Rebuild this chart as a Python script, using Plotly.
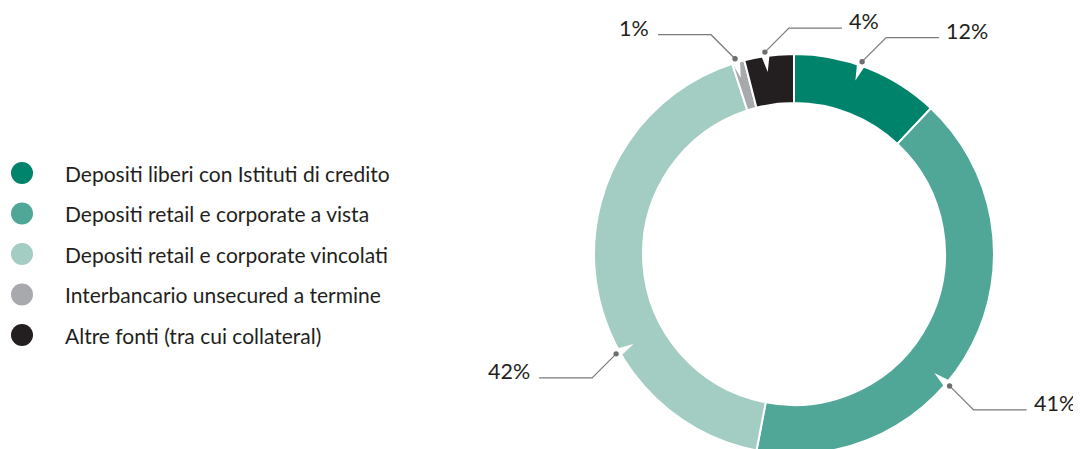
import math
import plotly.graph_objects as go

# data
categories = [
    "Depositi liberi con Istituti di credito",
    "Depositi retail e corporate a vista",
    "Depositi retail e corporate vincolati",
    "Interbancario unsecured a termine",
    "Altre fonti (tra cui collateral)",
]
shares = [12, 41, 42, 1, 4]
colors = ["#00836B", "#50A697", "#A3CDC3", "#A7A9AC", "#231F20"]

# label placement (angle from 12 o'clock, clockwise) and leader-line direction
label_angle = [19.5, 130.3, 240.7, 343.2, 351.8]
label_side = [1, 1, -1, -1, 1]    # horizontal run: +1 right, -1 left
label_rise = [-1, 1, 1, -1, -1]   # elbow: -1 up, +1 down

OFF = 8                 # page margin around the figure
W, H = 1073, 447
CX, CY, R = 794, 254, 200   # page pixels
HOLE = 0.755
FONT = "Lato"
TXT = "#231F20"
LEAD = "#7a7a7a"


def polar_px(angle, r):
    a = math.radians(angle)
    return CX + r * math.sin(a), CY - r * math.cos(a)


fig = go.Figure()

fx, fy = CX - OFF, CY - OFF
fig.add_trace(go.Pie(
    values=shares, labels=categories, sort=False, direction="clockwise",
    rotation=0, hole=HOLE, textinfo="none", hoverinfo="label+percent",
    marker=dict(colors=colors, line=dict(color="white", width=2)),
    domain=dict(x=[(fx - R) / W, (fx + R) / W],
                y=[max(0, (H - fy - R) / H), (H - fy + R) / H]),
    showlegend=False,
))

# legend drawn as circle markers on a pixel-scaled axis
leg_y = [173 + 40.5 * i for i in range(len(categories))]
fig.add_trace(go.Scatter(
    x=[22] * len(categories), y=leg_y, mode="markers",
    marker=dict(size=22, color=colors), hoverinfo="skip", showlegend=False,
))
for name, y in zip(categories, leg_y):
    fig.add_annotation(x=63, y=y, xref="x", yref="y", text=name, showarrow=False,
                       xanchor="left", yanchor="middle",
                       font=dict(family=FONT, size=21, color=TXT))

shapes = []
for v, ang, side, rise in zip(shares, label_angle, label_side, label_rise):
    # white notch cut into the ring, pointing to the centre
    a = math.radians(ang)
    px, py = math.cos(a), math.sin(a)
    bx, by = polar_px(ang, 202)
    tx, ty = polar_px(ang, 184)
    shapes.append(dict(
        type="path", xref="x", yref="y", layer="above",
        path=f"M{bx - 4.5 * px},{by - 4.5 * py} L{bx + 4.5 * px},{by + 4.5 * py} L{tx},{ty} Z",
        fillcolor="white", line=dict(width=0),
    ))
    dx, dy = polar_px(ang, 204)
    ex, ey = dx + 24 * side, dy + 24 * rise
    hx = ex + 53 * side
    shapes.append(dict(
        type="path", xref="x", yref="y", layer="above",
        path=f"M{dx},{dy} L{ex},{ey} L{hx},{ey}",
        line=dict(color=LEAD, width=1.2),
    ))
    shapes.append(dict(
        type="circle", xref="x", yref="y", layer="above",
        x0=dx - 2.7, x1=dx + 2.7, y0=dy - 2.7, y1=dy + 2.7,
        fillcolor="#6d6e71", line=dict(width=0),
    ))
    fig.add_annotation(x=hx + (5 if side > 0 else -7), y=ey - 7, xref="x", yref="y",
                       text=f"{v}%", showarrow=False,
                       xanchor="left" if side > 0 else "right", yanchor="middle",
                       font=dict(family=FONT, size=21.5, color=TXT))

fig.update_layout(
    width=W, height=H,
    margin=dict(l=0, r=0, t=0, b=0),
    paper_bgcolor="white", plot_bgcolor="white",
    xaxis=dict(range=[OFF, OFF + W], visible=False, fixedrange=True, domain=[0, 1]),
    yaxis=dict(range=[OFF + H, OFF], visible=False, fixedrange=True, domain=[0, 1]),
    shapes=shapes,
)

fig.write_html("out.html")
